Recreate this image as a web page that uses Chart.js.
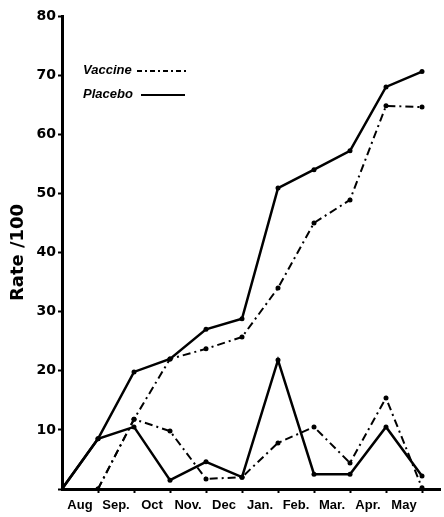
<!DOCTYPE html>
<html>
<head>
<meta charset="utf-8">
<script src="https://cdn.jsdelivr.net/npm/chart.js@4"></script>
<style>
  html, body { margin: 0; padding: 0; background: #fff; }
  #wrap { width: 444px; height: 517px; }
</style>
</head>
<body>
<div id="wrap"><canvas id="rate-chart" width="444" height="517"></canvas></div>
<script>
// month names sit between the boundary points
var months = ['Aug', 'Sep.', 'Oct', 'Nov.', 'Dec', 'Jan.', 'Feb.', 'Mar.', 'Apr.', 'May'];

// cumulative rates
var placeboCum = [0, 8.5, 19.8, 22, 27, 28.8, 50.9, 54, 57.2, 68, 70.6];
var vaccineCum = [0, 0, 11.8, 22, 23.7, 25.7, 34, 45, 48.9, 64.8, 64.6];

// monthly rates
var placeboMonth = [0, 8.5, 10.5, 1.5, 4.6, 2, 21.8, 2.5, 2.5, 10.5, 2.2];
var vaccineMonth = [0, 0, 11.8, 9.8, 1.7, 2, 7.8, 10.5, 4.4, 15.4, 0.2];

var yTicks = [10, 20, 30, 40, 50, 60, 70, 80];

var dashDot = [8, 4, 2, 4];

function pts(arr) {
    return arr.map(function (v, i) { return { x: i, y: v }; });
}

function line(label, arr, dash, width) {
    return {
        label: label,
        data: pts(arr),
        borderColor: '#000',
        backgroundColor: '#000',
        borderWidth: width,
        borderDash: dash,
        pointRadius: 2.5,
        pointBackgroundColor: '#000',
        pointBorderWidth: 0,
        tension: 0,
        fill: false
    };
}

// legend drawn as in the original: text first, line sample after
var legendPlugin = {
    id: 'textLegend',
    afterDraw: function (chart) {
        var c = chart.ctx;
        c.save();
        c.fillStyle = '#000';
        c.strokeStyle = '#000';
        c.font = 'italic bold 13px "Liberation Sans"';
        c.textBaseline = 'middle';
        c.fillText('Vaccine', 83, 70);
        c.fillText('Placebo', 83, 94);
        c.lineWidth = 2;
        c.setLineDash([5, 3, 2, 3]);
        c.beginPath(); c.moveTo(137, 71); c.lineTo(188, 71); c.stroke();
        c.setLineDash([]);
        c.lineWidth = 2.2;
        c.beginPath(); c.moveTo(141, 95); c.lineTo(185, 95); c.stroke();
        c.restore();
    }
};

var ctx = document.getElementById('rate-chart').getContext('2d');
var myChart = new Chart(ctx, {
    type: 'line',
    data: {
        datasets: [
            line('Placebo', placeboCum, [], 2.5),
            line('Vaccine', vaccineCum, dashDot, 2),
            line('Placebo monthly', placeboMonth, [], 2.5),
            line('Vaccine monthly', vaccineMonth, dashDot, 2)
        ]
    },
    options: {
        responsive: false,
        animation: false,
        layout: { padding: { top: 16, right: 4, left: 0, bottom: 0 } },
        plugins: {
            legend: { display: false },
            tooltip: { enabled: false }
        },
        scales: {
            x: {
                type: 'linear',
                min: 0,
                max: 10.5,
                afterBuildTicks: function (scale) {
                    var t = [];
                    for (var i = 0; i <= 20; i++) t.push({ value: i / 2 });
                    scale.ticks = t;
                },
                afterFit: function (scale) { scale.height = 28; },
                ticks: {
                    autoSkip: false,
                    maxRotation: 0,
                    padding: 5,
                    color: '#000',
                    font: { family: '"Liberation Sans"', weight: 'bold', size: 13 },
                    callback: function (v) {
                        var i = Math.floor(v);
                        return (v % 1 !== 0 && i < months.length) ? months[i] : '';
                    }
                },
                grid: {
                    drawOnChartArea: false,
                    drawTicks: true,
                    tickLength: 4,
                    tickWidth: 2,
                    tickColor: function (c) {
                        return (c.tick && c.tick.value % 1 === 0 && c.tick.value > 0) ? '#000' : 'rgba(0,0,0,0)';
                    }
                },
                border: { display: true, color: '#000', width: 3 }
            },
            y: {
                min: 0,
                max: 80,
                afterBuildTicks: function (scale) {
                    scale.ticks = [{ value: 0 }].concat(yTicks.map(function (v) { return { value: v }; }));
                },
                afterFit: function (scale) { scale.width = 62; },
                ticks: {
                    padding: 2,
                    color: '#000',
                    font: { family: '"DejaVu Sans"', weight: 'bold', size: 14 },
                    callback: function (v) { return v === 0 ? '' : v; }
                },
                title: {
                    display: true,
                    text: 'Rate /100',
                    color: '#000',
                    padding: { top: 8, bottom: 0 },
                    font: { family: '"DejaVu Sans"', weight: 'bold', size: 18 }
                },
                grid: {
                    drawOnChartArea: false,
                    drawTicks: true,
                    tickLength: 4,
                    tickWidth: 2,
                    tickColor: '#000'
                },
                border: { display: true, color: '#000', width: 3 }
            }
        }
    },
    plugins: [legendPlugin]
});
</script>
</body>
</html>
